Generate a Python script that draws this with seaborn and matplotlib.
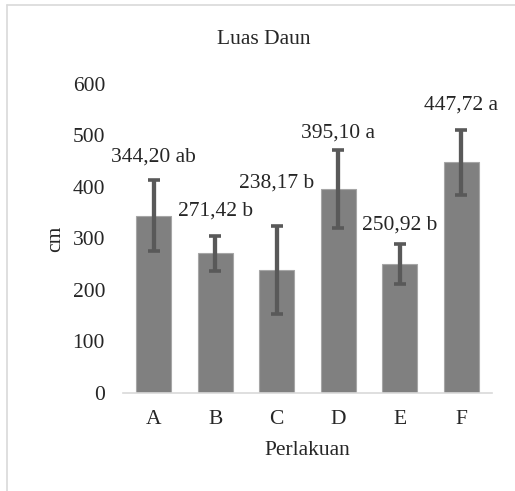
import pandas as pd
import matplotlib.pyplot as plt
import seaborn as sns
from matplotlib.lines import Line2D

# data
perlakuan = ['A', 'B', 'C', 'D', 'E', 'F']
luas_daun = [344.20, 271.42, 238.17, 395.10, 250.92, 447.72]
std_err = [68, 34, 85, 76, 39, 63]
notasi = ['ab', 'b', 'b', 'a', 'b', 'a']
label_y = [458, 353, 407, 504, 326, 558]

sns.set_style('white')
plt.rcParams['font.family'] = ['Liberation Serif', 'DejaVu Serif']
fs = 15.5

df = pd.DataFrame({'Perlakuan': perlakuan, 'cm': luas_daun})

fig = plt.figure(figsize=(5.15, 4.91), dpi=100)
ax = fig.add_axes([0.239, 0.1996, 0.716, 0.630])

sns.barplot(data=df, x='Perlakuan', y='cm', color='#808080', saturation=1,
            width=0.57, errorbar=None, edgecolor='#a6a6a6', linewidth=0.8, ax=ax)
ax.errorbar(range(len(perlakuan)), luas_daun, yerr=std_err, fmt='none',
            ecolor='#595959', elinewidth=3.1, capsize=4.6, capthick=2.6)

for i, (v, n, ly) in enumerate(zip(luas_daun, notasi, label_y)):
    txt = f'{v:.2f}'.replace('.', ',') + ' ' + n
    ax.text(i, ly, txt, ha='center', va='center', fontsize=fs, clip_on=False)

ax.set_ylim(0, 600)
ax.set_xlim(-0.5, 5.5)
ax.set_yticks(range(0, 601, 100))
ax.tick_params(axis='both', length=0, labelsize=fs)
ax.tick_params(axis='y', pad=13)
ax.tick_params(axis='x', pad=12)
ax.set_xlabel('Perlakuan', fontsize=fs, labelpad=9)
ax.set_ylabel('cm', fontsize=fs, labelpad=5)
for s in ['top', 'right', 'left']:
    ax.spines[s].set_visible(False)
ax.spines['bottom'].set_color('#d9d9d9')
ax.spines['bottom'].set_linewidth(1.2)

fig.text(264 / 515, 1 - 39 / 491, 'Luas Daun', ha='center', va='center', fontsize=fs)

# outer chart border (top and left only visible)
fig.add_artist(Line2D([7 / 515, 1], [1 - 5 / 491, 1 - 5 / 491], color='#d9d9d9', lw=1.2))
fig.add_artist(Line2D([7 / 515, 7 / 515], [0, 1 - 5 / 491], color='#d9d9d9', lw=1.2))

fig.savefig('out.png', dpi=100)
